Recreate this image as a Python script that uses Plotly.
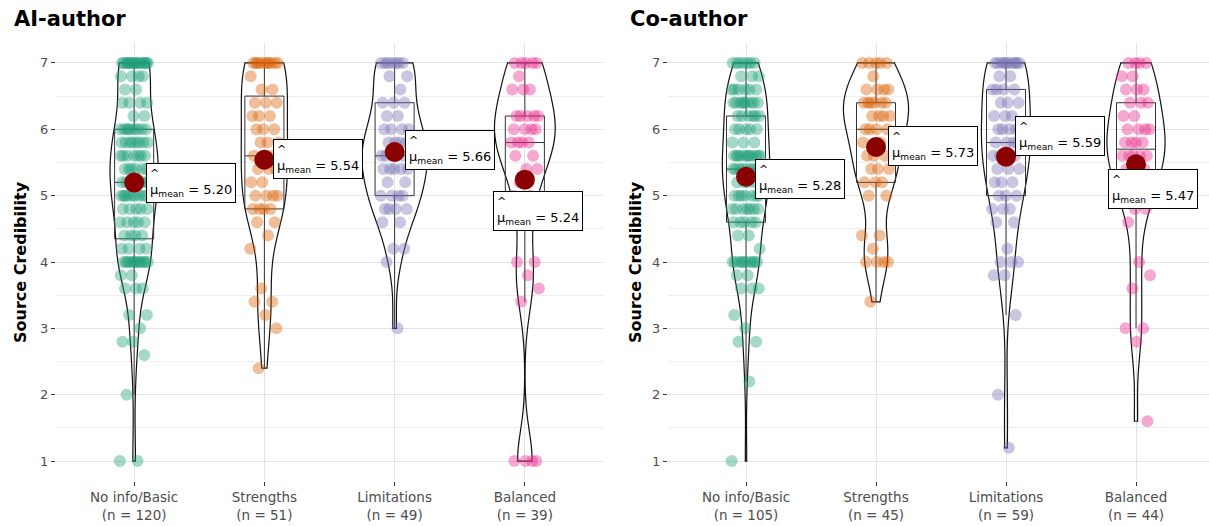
import numpy as np
import plotly.graph_objects as go

# ---------------- data ----------------
categories = ["No info/Basic", "Strengths", "Limitations", "Balanced"]
colors = ["#1B9E77", "#D95F02", "#7570B3", "#E7298A"]

# AI-author panel: score levels and how many respondents gave each score
ai_noinfo_values = [1.0, 2.0, 2.6, 2.8, 3.0, 3.2, 3.6, 3.8, 4.0, 4.2, 4.4, 4.6, 4.8, 5.0, 5.2, 5.4, 5.6, 5.8, 6.0, 6.2, 6.4, 6.6, 6.8, 7.0]
ai_noinfo_counts = [2, 1, 1, 2, 1, 2, 3, 2, 12, 4, 4, 5, 5, 9, 9, 6, 7, 8, 9, 2, 4, 2, 4, 16]
ai_strengths_values = [2.4, 3.0, 3.2, 3.4, 3.6, 4.2, 4.4, 4.6, 4.8, 5.0, 5.2, 5.4, 5.6, 5.8, 6.0, 6.2, 6.4, 6.6, 6.8, 7.0]
ai_strengths_counts = [1, 1, 1, 2, 1, 1, 1, 2, 4, 4, 2, 3, 3, 3, 3, 3, 3, 2, 1, 10]
ai_limitations_values = [3.0, 4.0, 4.2, 4.6, 4.8, 5.0, 5.2, 5.4, 5.6, 5.8, 6.0, 6.2, 6.4, 6.6, 6.8, 7.0]
ai_limitations_counts = [1, 1, 2, 2, 4, 4, 2, 5, 5, 4, 4, 2, 3, 1, 2, 7]
ai_balanced_values = [1.0, 3.4, 3.6, 3.8, 4.0, 4.6, 5.0, 5.2, 5.4, 5.6, 5.8, 6.0, 6.2, 6.6, 6.8, 7.0]
ai_balanced_counts = [4, 1, 1, 1, 2, 1, 2, 1, 2, 2, 4, 4, 5, 3, 1, 5]

# Co-author panel
co_noinfo_values = [1.0, 2.2, 2.8, 3.0, 3.2, 3.6, 3.8, 4.0, 4.2, 4.4, 4.6, 4.8, 5.0, 5.2, 5.4, 5.6, 5.8, 6.0, 6.2, 6.4, 6.6, 6.8, 7.0]
co_noinfo_counts = [1, 1, 2, 1, 1, 3, 2, 10, 1, 2, 5, 7, 7, 4, 8, 11, 3, 5, 6, 9, 6, 3, 7]
co_strengths_values = [3.4, 4.0, 4.2, 4.4, 5.0, 5.2, 5.4, 5.6, 5.8, 6.0, 6.2, 6.4, 6.6, 6.8, 7.0]
co_strengths_counts = [1, 4, 1, 2, 2, 3, 3, 3, 2, 4, 4, 6, 4, 1, 5]
co_limitations_values = [1.2, 2.0, 3.2, 3.8, 4.0, 4.2, 4.6, 4.8, 5.0, 5.2, 5.4, 5.6, 5.8, 6.0, 6.2, 6.4, 6.6, 6.8, 7.0]
co_limitations_counts = [1, 1, 1, 2, 3, 1, 2, 3, 3, 3, 3, 5, 4, 5, 3, 3, 4, 2, 10]
co_balanced_values = [1.6, 2.8, 3.0, 3.6, 3.8, 4.0, 4.6, 4.8, 5.0, 5.2, 5.4, 5.6, 5.8, 6.0, 6.2, 6.4, 6.6, 6.8, 7.0]
co_balanced_counts = [1, 1, 2, 1, 1, 1, 1, 2, 2, 2, 3, 5, 4, 4, 2, 3, 3, 2, 4]

panel_titles = ["AI-author", "Co-author"]
y_title = "Source Credibility"
y_ticks = [1, 2, 3, 4, 5, 6, 7]

panels = [
    [(ai_noinfo_values, ai_noinfo_counts), (ai_strengths_values, ai_strengths_counts),
     (ai_limitations_values, ai_limitations_counts), (ai_balanced_values, ai_balanced_counts)],
    [(co_noinfo_values, co_noinfo_counts), (co_strengths_values, co_strengths_counts),
     (co_limitations_values, co_limitations_counts), (co_balanced_values, co_balanced_counts)],
]

# label placement (anchor, x shift px, y shift px) -- styling only
label_pos = [
    [("left", 12, 0), ("left", 9, 1), ("left", 10, 2), ("center", 13, -31)],
    [("left", 9, -2), ("left", 12, 1), ("left", 9, 21), ("center", 17, -25)],
]

FONT = "DejaVu Sans, Verdana, sans-serif"
W, H = 1209, 526


def hex_rgba(h, a):
    h = h.lstrip("#")
    return "rgba(%d,%d,%d,%.2f)" % (int(h[0:2], 16), int(h[2:4], 16), int(h[4:6], 16), a)


def nrd0(x):
    sd = np.std(x, ddof=1)
    q75, q25 = np.percentile(x, [75, 25])
    lo = min(sd, (q75 - q25) / 1.34)
    if lo <= 0:
        lo = sd if sd > 0 else 1.0
    return 0.9 * lo * len(x) ** -0.2


def kde_peak(x, bw):
    grid = np.linspace(x.min(), x.max(), 512)
    d = np.exp(-0.5 * ((grid[:, None] - x[None, :]) / bw) ** 2).sum(1) / (len(x) * bw * np.sqrt(2 * np.pi))
    return d.max()


fig = go.Figure()
annotations = []

x_domains = [[56 / W, 603 / W], [668 / W, 1.0]]
x_ranges = [[0.4, 4.6], [0.4, 0.4 + 541 / 130.0]]
y_domain = [(H - 481) / H, (H - 43) / H]

for p, groups in enumerate(panels):
    xa = "x" if p == 0 else "x2"
    ya = "y" if p == 0 else "y2"
    data = [np.repeat(np.array(v, float), c) for v, c in groups]
    bws = [nrd0(d) for d in data]
    peaks = [kde_peak(d, b) for d, b in zip(data, bws)]
    pmax = max(peaks)
    ticktext = []
    for i, d in enumerate(data):
        pos = i + 1
        n = len(d)
        ticktext.append("%s<br>(n = %d)" % (categories[i], n))
        # violin (area scaled within panel)
        fig.add_trace(go.Violin(
            x0=pos, y=d, width=0.5 * peaks[i] / pmax, scalemode="width", spanmode="hard",
            bandwidth=bws[i], line=dict(color="#111111", width=1.2),
            fillcolor="rgba(255,255,255,0)", points=False,
            box_visible=False, meanline_visible=False, hoverinfo="skip",
            showlegend=False, xaxis=xa, yaxis=ya))
        # box (ggplot-style quantiles and 1.5 IQR whiskers)
        q1, med, q3 = np.percentile(d, [25, 50, 75])
        iqr = q3 - q1
        lf = d[d >= q1 - 1.5 * iqr].min()
        uf = d[d <= q3 + 1.5 * iqr].max()
        fig.add_trace(go.Box(
            x=[pos], q1=[q1], median=[med], q3=[q3], lowerfence=[lf], upperfence=[uf],
            width=0.3, whiskerwidth=0, fillcolor="rgba(255,255,255,0)",
            line=dict(color="#333333", width=1), boxpoints=False, hoverinfo="skip",
            showlegend=False, xaxis=xa, yaxis=ya))
        # jittered points (deterministic jitter)
        k = np.arange(n)
        jit = ((k * 0.6180339887 + 0.3 * i) % 1.0 - 0.5) * 0.22
        fig.add_trace(go.Scatter(
            x=pos + jit, y=d, mode="markers",
            marker=dict(size=12, color=hex_rgba(colors[i], 0.4), line=dict(width=0)),
            hoverinfo="skip", showlegend=False, xaxis=xa, yaxis=ya))
        # mean point
        m = d.mean()
        fig.add_trace(go.Scatter(
            x=[pos], y=[m], mode="markers",
            marker=dict(size=20, color="#8B0000", line=dict(width=0)),
            hoverinfo="skip", showlegend=False, xaxis=xa, yaxis=ya))
        anc, xs, ys = label_pos[p][i]
        annotations.append(dict(
            x=pos, y=m, xref=xa, yref=ya, xanchor=anc, yanchor="middle",
            xshift=xs, yshift=ys, showarrow=False, align="left",
            text="<span style='font-size:11px'>^</span><br>\u03bc<sub>mean</sub> = %.2f" % m,
            font=dict(family=FONT, size=13, color="black"),
            bgcolor="white", bordercolor="black", borderwidth=1, borderpad=3))

    xkey = "xaxis" if p == 0 else "xaxis2"
    ykey = "yaxis" if p == 0 else "yaxis2"
    fig.update_layout(**{
        xkey: dict(domain=x_domains[p], range=x_ranges[p], type="linear",
                   anchor=ya, tickvals=[1, 2, 3, 4], ticktext=ticktext,
                   showgrid=True, gridcolor="#E3E3E3", gridwidth=1, zeroline=False,
                   ticks="outside", ticklen=4, tickcolor="#333333", tickwidth=1,
                   tickfont=dict(family=FONT, size=13.5, color="#4D4D4D"),
                   showline=False, automargin=False, fixedrange=True),
        ykey: dict(domain=y_domain, range=[0.7, 7.3], anchor=xa,
                   tickvals=y_ticks, showgrid=True, gridcolor="#E3E3E3", gridwidth=1,
                   zeroline=False, ticks="outside", ticklen=4, tickcolor="#333333",
                   tickwidth=1, tickfont=dict(family=FONT, size=13, color="#4D4D4D"),
                   minor=dict(tickvals=[1.5, 2.5, 3.5, 4.5, 5.5, 6.5], showgrid=True,
                              gridcolor="#EEEEEE", gridwidth=1, ticks=""),
                   showline=False, automargin=False, fixedrange=True),
    })

# panel titles
for p, (tx, yx) in enumerate([(12, 20), (628, 635)]):
    annotations.append(dict(x=tx / W, y=1 - 5 / H, xref="paper", yref="paper",
                            xanchor="left", yanchor="top", showarrow=False,
                            text="<b>%s</b>" % panel_titles[p],
                            font=dict(family=FONT, size=21, color="black")))
    annotations.append(dict(x=yx / W, y=(H - 262) / H, xref="paper", yref="paper",
                            xanchor="center", yanchor="middle", showarrow=False,
                            textangle=-90, text="<b>%s</b>" % y_title,
                            font=dict(family=FONT, size=16, color="black")))

fig.update_layout(
    width=W, height=H, autosize=False,
    margin=dict(l=0, r=0, t=0, b=0),
    paper_bgcolor="white", plot_bgcolor="white",
    violinmode="overlay", boxmode="overlay",
    showlegend=False, annotations=annotations,
    font=dict(family=FONT),
)

fig.write_html("out.html")
